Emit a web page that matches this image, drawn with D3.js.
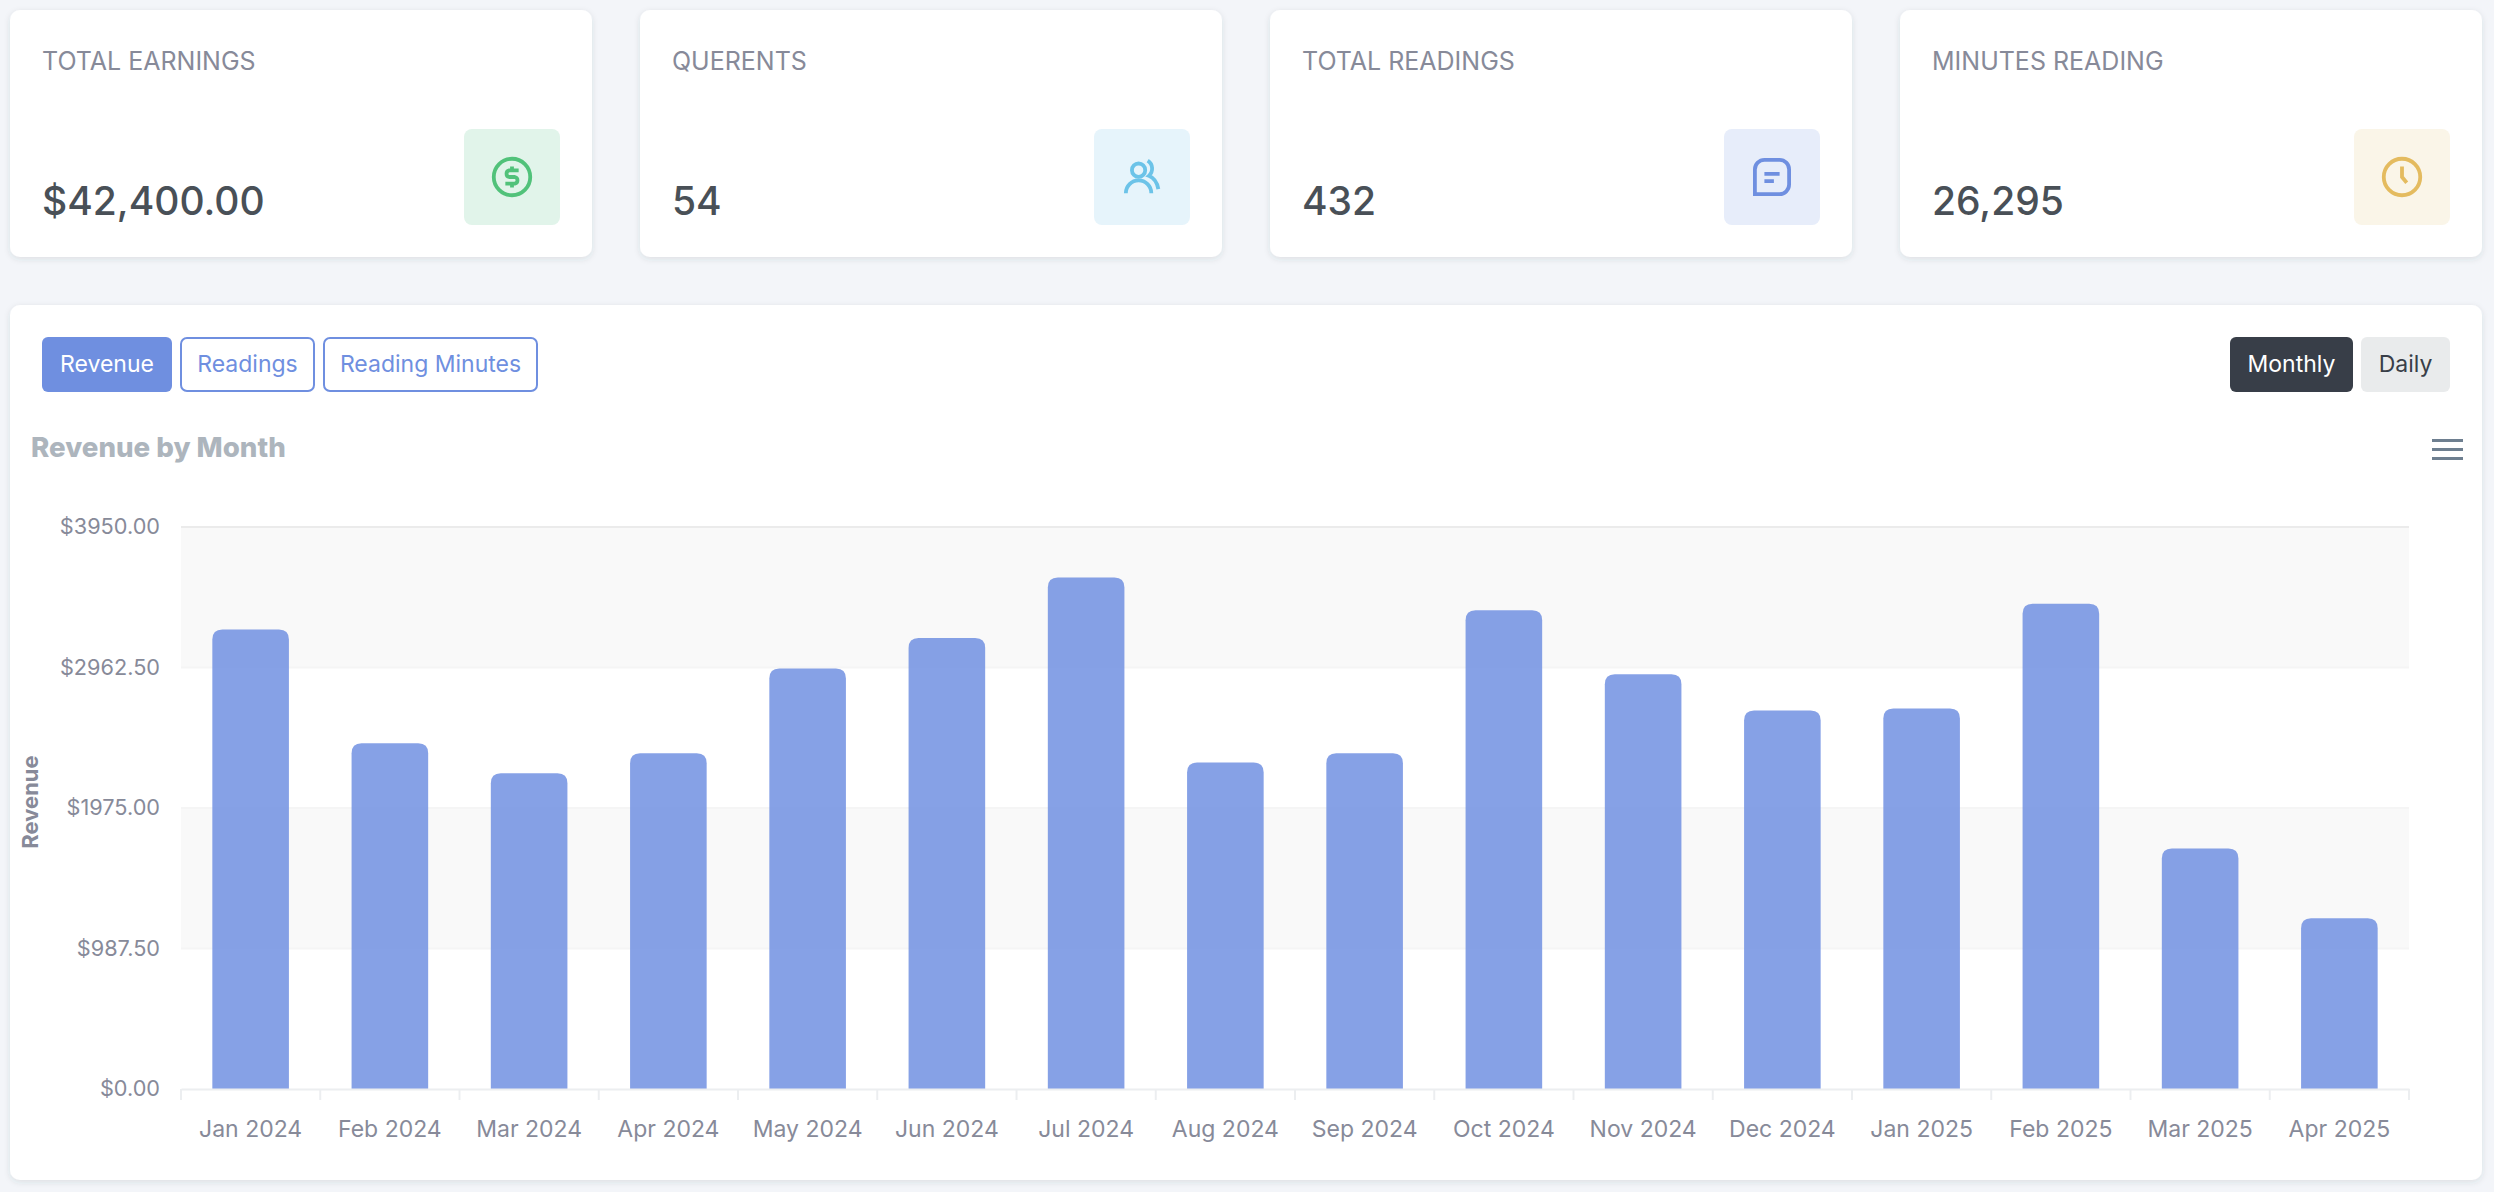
<!DOCTYPE html>
<html>
<head>
<meta charset="utf-8">
<script src="https://cdn.jsdelivr.net/npm/d3@7"></script>
<style>
  html, body { margin: 0; padding: 0; background: #f3f5f9; overflow: hidden; }
  svg { display: block; }
  text { font-family: Inter, "Noto Sans", sans-serif; }
</style>
</head>
<body>
<svg id="page" width="2494" height="1192"></svg>
<script>
// chart data
var months = ["Jan 2024", "Feb 2024", "Mar 2024", "Apr 2024", "May 2024", "Jun 2024", "Jul 2024", "Aug 2024",
              "Sep 2024", "Oct 2024", "Nov 2024", "Dec 2024", "Jan 2025", "Feb 2025", "Mar 2025", "Apr 2025"];
var revenue = [3230, 2430, 2220, 2360, 2955, 3170, 3595, 2295, 2360, 3365, 2915, 2660, 2675, 3410, 1690, 1200];
var yTicks = [0, 987.5, 1975, 2962.5, 3950];

// kpi cards
var kpiLabels = ["TOTAL EARNINGS", "QUERENTS", "TOTAL READINGS", "MINUTES READING"];
var kpiValues = ["$42,400.00", "54", "432", "26,295"];
var kpiColors = ["#51c27a", "#6cc3e8", "#6f8fe0", "#e4bb5f"];
var kpiBoxes = ["#e1f4ea", "#e6f4fb", "#e7edfa", "#faf5e8"];

var typeButtons = ["Revenue", "Readings", "Reading Minutes"];
var periodButtons = ["Monthly", "Daily"];

var svg = d3.select("#page");

var defs = svg.append("defs");
var shadow = defs.append("filter").attr("id", "shadow")
    .attr("x", "-5%").attr("y", "-5%").attr("width", "110%").attr("height", "115%");
shadow.append("feDropShadow").attr("dx", 0).attr("dy", 2).attr("stdDeviation", 3)
    .attr("flood-color", "#38414a").attr("flood-opacity", 0.12);

function card(x, y, w, h) {
    svg.append("rect").attr("x", x).attr("y", y).attr("width", w).attr("height", h)
        .attr("rx", 10).attr("fill", "#fff").attr("filter", "url(#shadow)");
}

// icons drawn in a 24 unit box
function drawIcon(g, i) {
    if (i == 0) {
        g.append("circle").attr("cx", 12).attr("cy", 12).attr("r", 9.6);
        g.append("path").attr("d", "M15.5 8.5h-5a1.8 1.8 0 0 0 0 3.5h3a1.8 1.8 0 0 1 0 3.5h-5M12 6.5v2M12 15.5v2");
    } else if (i == 1) {
        g.append("circle").attr("cx", 10.2).attr("cy", 8.4).attr("r", 3.5);
        g.append("path").attr("d", "M3.5 20.5a6.7 6.7 0 0 1 13.4 0");
        g.append("path").attr("d", "M15 3.4a5 5 0 0 1 .6 8c2.5 1 4.4 3.6 5 7");
    } else if (i == 2) {
        g.append("path").attr("d", "M3 21V8a5 5 0 0 1 5-5h8a5 5 0 0 1 5 5v8a5 5 0 0 1-5 5Z");
        g.append("path").attr("d", "M8 10.4h8M8 14.2h5");
    } else {
        g.append("circle").attr("cx", 12).attr("cy", 12).attr("r", 9.6);
        g.append("path").attr("d", "M12 6.5v5.5l2.5 3");
    }
}

// top row
kpiLabels.forEach(function(label, i) {
    var cx = 10 + i * 630;
    card(cx, 10, 582, 247);
    svg.append("text").attr("x", cx + 32).attr("y", 70).text(label)
        .attr("font-size", 25).attr("fill", "#878a99");
    svg.append("text").attr("x", cx + 32).attr("y", 215).text(kpiValues[i])
        .attr("font-size", 39).attr("font-weight", 500).attr("fill", "#495057");
    svg.append("rect").attr("x", cx + 454).attr("y", 129).attr("width", 96).attr("height", 96)
        .attr("rx", 8).attr("fill", kpiBoxes[i]);
    var icon = svg.append("g")
        .attr("transform", "translate(" + (cx + 502 - 22.8) + "," + (177 - 22.8) + ") scale(1.9)")
        .attr("fill", "none").attr("stroke", kpiColors[i]).attr("stroke-width", 2);
    drawIcon(icon, i);
});

// main card
card(10, 305, 2472, 875);

var typeX = [42, 180, 323];
var typeW = [130, 135, 215];
typeButtons.forEach(function(name, i) {
    svg.append("rect").attr("x", typeX[i] + (i ? 1 : 0)).attr("y", i ? 338 : 337)
        .attr("width", typeW[i] - (i ? 2 : 0)).attr("height", i ? 53 : 55).attr("rx", 6)
        .attr("fill", i ? "#fff" : "#6f8fe0")
        .attr("stroke", i ? "#6f8fe0" : "none").attr("stroke-width", 2);
    svg.append("text").attr("x", typeX[i] + typeW[i] / 2).attr("y", 372).attr("text-anchor", "middle")
        .text(name).attr("font-size", 23).attr("fill", i ? "#6f8fe0" : "#fff");
});

var periodX = [2230, 2361];
var periodW = [123, 89];
periodButtons.forEach(function(name, i) {
    svg.append("rect").attr("x", periodX[i]).attr("y", 337).attr("width", periodW[i]).attr("height", 55)
        .attr("rx", 6).attr("fill", i ? "#e9ebec" : "#383e48");
    svg.append("text").attr("x", periodX[i] + periodW[i] / 2).attr("y", 372).attr("text-anchor", "middle")
        .text(name).attr("font-size", 23).attr("fill", i ? "#383e48" : "#fff");
});

svg.append("text").attr("x", 31).attr("y", 457).text("Revenue by Month")
    .attr("font-size", 27.7).attr("font-weight", 800).attr("fill", "#adb5bd");

// hamburger menu
[440.5, 449.5, 458.5].forEach(function(y) {
    svg.append("line").attr("x1", 2432).attr("x2", 2463).attr("y1", y).attr("y2", y)
        .attr("stroke", "#6e7f90").attr("stroke-width", 3);
});

// plot
var plotLeft = 181, plotRight = 2409, plotTop = 527, plotBottom = 1089;

var x = d3.scaleBand().domain(months).range([plotLeft, plotRight]).paddingInner(0).paddingOuter(0);
var y = d3.scaleLinear().domain([0, 3950]).range([plotBottom, plotTop]);

// alternating bands, starting from the top
var bandPairs = d3.pairs(yTicks).reverse();
svg.append("g").selectAll("rect").data(bandPairs).join("rect")
    .attr("x", plotLeft).attr("width", plotRight - plotLeft)
    .attr("y", function(d) { return y(d[1]); })
    .attr("height", function(d) { return y(d[0]) - y(d[1]); })
    .attr("fill", function(d, i) { return i % 2 == 0 ? "#f9f9f9" : "#fff"; });

// grid lines
svg.append("g").selectAll("line").data(yTicks.slice(1)).join("line")
    .attr("x1", plotLeft).attr("x2", plotRight)
    .attr("y1", function(d) { return y(d); }).attr("y2", function(d) { return y(d); })
    .attr("stroke", function(d) { return d == 3950 ? "#ebebeb" : "#f5f5f5"; })
    .attr("stroke-width", 2);

// bars, only the top corners are round
var barW = x.step() * 0.55;
var r = 10;
svg.append("g").selectAll("path").data(revenue).join("path")
    .attr("d", function(d, i) {
        var x0 = x(months[i]) + (x.step() - barW) / 2;
        var top = y(d);
        return "M" + x0 + "," + plotBottom + "V" + (top + r) +
            "Q" + x0 + "," + top + " " + (x0 + r) + "," + top +
            "H" + (x0 + barW - r) +
            "Q" + (x0 + barW) + "," + top + " " + (x0 + barW) + "," + (top + r) +
            "V" + plotBottom + "Z";
    })
    .attr("fill", "#7191e2").attr("fill-opacity", 0.85);

// axes
var xAxis = svg.append("g").attr("transform", "translate(0," + plotBottom + ")")
    .call(d3.axisBottom(x).tickSize(0).tickPadding(32));
xAxis.select(".domain").attr("stroke", "#eceef0").attr("stroke-width", 2);
xAxis.selectAll("text").attr("font-size", 23).attr("fill", "#878a99")
    .style("font-family", "Inter, sans-serif");

// apex puts the x ticks on the band edges
svg.append("g").selectAll("line").data(d3.range(months.length + 1)).join("line")
    .attr("x1", function(d) { return plotLeft + d * x.step(); })
    .attr("x2", function(d) { return plotLeft + d * x.step(); })
    .attr("y1", plotBottom).attr("y2", plotBottom + 11)
    .attr("stroke", "#eceef0").attr("stroke-width", 2);

var yAxis = svg.append("g").attr("transform", "translate(" + plotLeft + ",0)")
    .call(d3.axisLeft(y).tickValues(yTicks).tickSize(0).tickPadding(21)
        .tickFormat(function(d) { return "$" + d3.format(".2f")(d); }));
yAxis.select(".domain").remove();
yAxis.selectAll("text").attr("font-size", 21.7).attr("fill", "#878a99")
    .style("font-family", "Inter, sans-serif");

svg.append("text").attr("transform", "translate(38,802) rotate(-90)").attr("text-anchor", "middle")
    .text("Revenue").attr("font-size", 22).attr("font-weight", 700).attr("fill", "#878a99");
</script>
</body>
</html>
